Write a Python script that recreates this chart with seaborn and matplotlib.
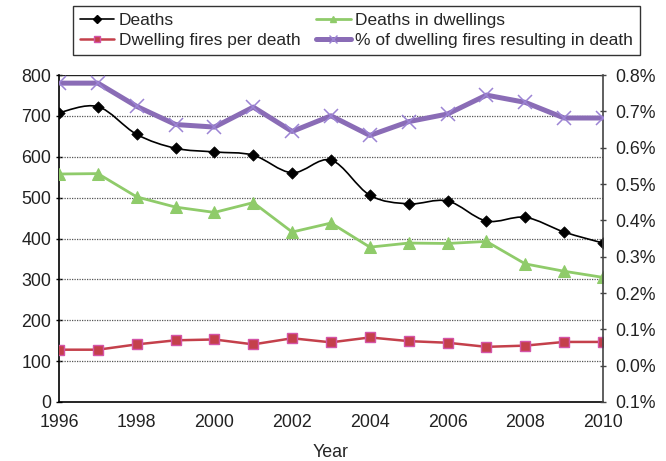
import numpy as np
import pandas as pd
import matplotlib
matplotlib.use("Agg")
import matplotlib.pyplot as plt
import seaborn as sns
from matplotlib.path import Path
from matplotlib.patches import PathPatch
from matplotlib.lines import Line2D

years = [1996, 1997, 1998, 1999, 2000, 2001, 2002, 2003, 2004, 2005, 2006, 2007, 2008, 2009, 2010]
deaths = [708, 723, 655, 621, 612, 604, 561, 592, 506, 485, 492, 443, 452, 416, 389]
deaths_dwellings = [558, 559, 502, 477, 464, 488, 416, 438, 379, 389, 388, 393, 338, 320, 305]
fires_per_death = [128, 128, 141, 151, 153, 141, 156, 146, 158, 149, 145, 135, 138, 147, 147]
pct_fatal = [0.778, 0.778, 0.714, 0.664, 0.657, 0.712, 0.645, 0.688, 0.634, 0.672, 0.693, 0.745, 0.725, 0.682, 0.682]

left_ticks = [0, 100, 200, 300, 400, 500, 600, 700, 800]
right_ticks = [-0.1, 0.0, 0.1, 0.2, 0.3, 0.4, 0.5, 0.6, 0.7, 0.8]
right_labels = ["0.1%", "0.0%", "0.1%", "0.2%", "0.3%", "0.4%", "0.5%", "0.6%", "0.7%", "0.8%"]
x_ticks = [1996, 1998, 2000, 2002, 2004, 2006, 2008, 2010]

labels = ["Deaths", "Dwelling fires per death", "Deaths in dwellings",
          "% of dwelling fires resulting in death"]

df = pd.DataFrame({"Year": years, "Deaths": deaths, "DD": deaths_dwellings,
                   "FPD": fires_per_death, "PCT": pct_fatal})

sns.set_style("white")
plt.rcParams["font.family"] = ["Liberation Sans", "DejaVu Sans"]
FS = 12.8
LFS = 12.5

fig = plt.figure(figsize=(6.66, 4.61), dpi=100)
ax = fig.add_axes([0.0886, 0.128, 0.8168, 0.709])
ax2 = ax.twinx()

C_BLACK = "#000000"
C_RED = "#C4404B"
C_RED_EDGE = "#D454A8"
C_GREEN = "#8FCB6A"
C_PURPLE = "#8A6CB6"
C_PURPLE_M = "#9C84D4"

# Deaths: smooth curve (Catmull-Rom -> cubic Bezier) + diamond markers
xs = np.array(years, dtype=float)
ys = np.array(deaths, dtype=float)
P = np.column_stack([xs, ys])
verts = [tuple(P[0])]
codes = [Path.MOVETO]
n = len(P)
for i in range(n - 1):
    p0 = P[i - 1] if i > 0 else P[i]
    p1 = P[i]
    p2 = P[i + 1]
    p3 = P[i + 2] if i + 2 < n else P[i + 1]
    c1 = p1 + (p2 - p0) / 6.0
    c2 = p2 - (p3 - p1) / 6.0
    verts += [tuple(c1), tuple(c2), tuple(p2)]
    codes += [Path.CURVE4, Path.CURVE4, Path.CURVE4]
ax.add_patch(PathPatch(Path(verts, codes), facecolor="none", edgecolor=C_BLACK,
                       lw=1.2, zorder=4))
sns.scatterplot(data=df, x="Year", y="Deaths", ax=ax, marker="D", s=34,
                color=C_BLACK, edgecolor=C_BLACK, zorder=5, legend=False)

sns.lineplot(data=df, x="Year", y="DD", ax=ax, color=C_GREEN, lw=2.0,
             marker="^", markersize=8, markeredgecolor=C_GREEN, zorder=4, legend=False)
sns.lineplot(data=df, x="Year", y="FPD", ax=ax, color=C_RED, lw=1.8,
             marker="s", markersize=7.5, markeredgecolor=C_RED_EDGE, markeredgewidth=1.0,
             zorder=4, legend=False)
sns.lineplot(data=df, x="Year", y="PCT", ax=ax2, color=C_PURPLE, lw=3.6,
             marker="x", markersize=10, markeredgecolor=C_PURPLE_M, markeredgewidth=1.1,
             zorder=4, legend=False)

ax.set_xlim(1996, 2010)
ax.set_ylim(0, 800)
ax2.set_ylim(-0.1, 0.8)
ax.set_xticks(x_ticks)
ax.set_xticklabels([str(t) for t in x_ticks], fontsize=FS)
ax.set_yticks(left_ticks)
ax.set_yticklabels([str(t) for t in left_ticks], fontsize=FS)
ax2.set_yticks(right_ticks)
ax2.set_yticklabels(right_labels, fontsize=FS)

for t in left_ticks[1:-1]:
    ax.axhline(t, color="#555555", lw=0.9, ls=(0, (1, 1)), zorder=1)
ax.axhline(800, color="#222222", lw=1.0, zorder=1)

ax.set_xlabel("Year", fontsize=FS, labelpad=9)
ax.set_ylabel("")
ax2.set_ylabel("")

for a in (ax, ax2):
    for s in a.spines.values():
        s.set_visible(False)
ax.spines["left"].set_visible(True)
ax.spines["left"].set_color("#000000")
ax.spines["left"].set_linewidth(1.2)
ax.spines["bottom"].set_visible(True)
ax.spines["bottom"].set_color("#000000")
ax.spines["bottom"].set_linewidth(1.2)
ax2.spines["right"].set_visible(True)
ax2.spines["right"].set_color("#444444")
ax2.spines["right"].set_linewidth(1.2)

ax.tick_params(axis="y", direction="inout", length=5, width=1, colors="#000000",
               labelcolor="#222222", pad=3)
ax.tick_params(axis="x", direction="in", length=4, width=1, colors="#000000",
               labelcolor="#222222", pad=9)
ax2.tick_params(axis="y", direction="inout", length=5, width=1, colors="#444444",
                labelcolor="#222222", pad=6)

handles = [
    Line2D([], [], color=C_BLACK, lw=1.2, marker="D", markersize=4),
    Line2D([], [], color=C_RED, lw=1.8, marker="s", markersize=5,
           markeredgecolor=C_RED_EDGE),
    Line2D([], [], color=C_GREEN, lw=2.0, marker="^", markersize=5),
    Line2D([], [], color=C_PURPLE, lw=3.6, marker="x", markersize=6,
           markeredgecolor=C_PURPLE_M),
]
leg = fig.legend(handles, labels, loc="center", bbox_to_anchor=(0.535, 0.934),
                 ncol=2, fontsize=LFS, frameon=True, fancybox=False,
                 handlelength=2.0, handletextpad=0.25, columnspacing=0.9,
                 labelspacing=0.28, borderpad=0.4)
leg.get_frame().set_edgecolor("#000000")
leg.get_frame().set_linewidth(1.0)

fig.savefig("out.png", dpi=100)
